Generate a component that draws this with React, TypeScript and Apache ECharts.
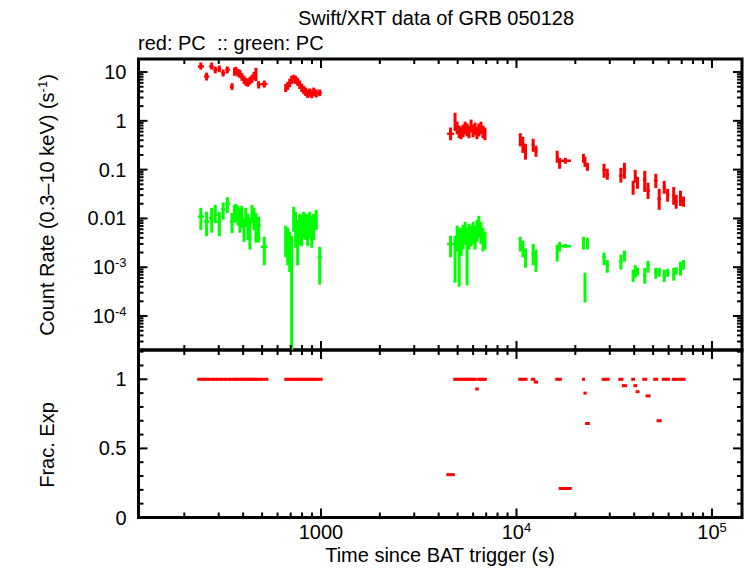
import React, { useEffect, useRef } from "react";
import * as echarts from "echarts";

// ---- light-curve bins (time in s since trigger) ----
const binTime = [
  243, 260, 276, 288, 302, 316, 332, 351,
  361, 367, 376, 385, 394, 404, 413, 423, 433, 444, 454, 465, 480, 513,
  660, 676, 692, 708, 725, 742, 760, 778, 797, 816, 835, 855, 876, 897, 918, 946, 985,
  4600, 4850, 4970, 5090, 5210, 5330, 5460, 5590, 5720, 5860, 6000, 6140, 6280, 6420, 6580, 6740, 6900,
  10460, 10780, 11120,
  12170, 12580,
  16150, 16620, 17800,
  22010, 22410, 23050,
  28050, 29140,
  34200, 35650,
  39500, 40500, 41600,
  45300, 47100,
  51600, 53700,
  57000, 59300,
  63700, 65600,
  69000, 71500,
];

const binStart = [
  235, 252, 268, 282, 295, 309, 324, 342,
  357, 364, 371, 380, 389, 399, 408, 418, 428, 438, 449, 459, 470, 492,
  655, 668, 684, 700, 716, 733, 751, 769, 787, 806, 825, 845, 865, 886, 907, 930, 960,
  4420, 4790, 4910, 5030, 5150, 5270, 5400, 5530, 5660, 5790, 5930, 6070, 6210, 6350, 6500, 6660, 6820,
  10300, 10620, 10950,
  11960, 12370,
  15930, 16380, 16600,
  21800, 22200, 22650,
  27520, 28600,
  33500, 34900,
  39000, 40000, 41050,
  44380, 46200,
  50500, 52600,
  55900, 58200,
  62800, 64650,
  67700, 70300,
];

const binEnd = [
  252, 268, 282, 295, 309, 324, 342, 357,
  364, 371, 380, 389, 399, 408, 418, 428, 438, 449, 459, 470, 492, 533,
  668, 684, 700, 716, 733, 751, 769, 787, 806, 825, 845, 865, 886, 907, 930, 960, 1010,
  4790, 4910, 5030, 5150, 5270, 5400, 5530, 5660, 5790, 5930, 6070, 6210, 6350, 6500, 6660, 6820, 6990,
  10620, 10950, 11290,
  12370, 12780,
  16380, 16900, 19000,
  22200, 22650, 23500,
  28600, 29680,
  34900, 36430,
  40000, 41050, 42170,
  46200, 48080,
  52600, 54800,
  58200, 60500,
  64650, 66590,
  70300, 72600,
];

// red: PC count rate (s^-1) with lower / upper error bounds
const redRate = [
  13.0, 8.1, 13.0, 11.1, 11.6, 9.5, 11.1, 5.0,
  10.1, 10.6, 9.6, 9.2, 8.0, 6.9, 6.3, 6.0, 6.6, 7.3, 8.4, 8.8, 5.5, 5.65,
  4.75, 5.2, 6.0, 6.9, 7.3, 6.9, 6.3, 5.5, 4.75, 4.3, 3.9, 3.6, 3.75, 3.5, 3.9, 3.6, 3.75,
  0.542, 0.954, 0.719, 0.595, 0.568, 0.624, 0.719, 0.654, 0.595, 0.79, 0.624, 0.686, 0.568, 0.654, 0.719, 0.595, 0.542,
  0.428, 0.322, 0.232,
  0.322, 0.243,
  0.183, 0.132, 0.152,
  0.174, 0.145, 0.114,
  0.099, 0.078,
  0.075, 0.099,
  0.042, 0.071, 0.054,
  0.062, 0.037,
  0.059, 0.025,
  0.044, 0.031,
  0.029, 0.022,
  0.026, 0.022,
];
const redLow = [
  11.2, 6.7, 11.2, 9.4, 9.9, 8.1, 9.4, 4.3,
  8.4, 8.8, 8.0, 7.6, 6.6, 5.7, 5.2, 5.0, 5.5, 6.0, 6.9, 6.5, 4.6, 4.8,
  3.9, 4.3, 4.9, 5.7, 6.0, 5.7, 5.2, 4.5, 3.9, 3.5, 3.2, 2.95, 3.1, 2.9, 3.2, 3.0, 3.2,
  0.4, 0.62, 0.53, 0.44, 0.42, 0.46, 0.53, 0.48, 0.44, 0.58, 0.46, 0.51, 0.42, 0.48, 0.53, 0.44, 0.4,
  0.3, 0.22, 0.16,
  0.232, 0.183,
  0.138, 0.104, 0.132,
  0.138, 0.114, 0.0945,
  0.068, 0.062,
  0.054, 0.065,
  0.0305, 0.054, 0.0405,
  0.035, 0.025,
  0.042, 0.015,
  0.032, 0.022,
  0.019, 0.0158,
  0.018, 0.0173,
];
const redHigh = [
  15.7, 9.7, 15.7, 13.0, 13.6, 11.2, 13.0, 5.9,
  12.2, 12.8, 11.6, 11.1, 9.6, 8.4, 7.6, 7.3, 8.0, 8.8, 10.1, 12.2, 6.5, 6.7,
  5.7, 6.3, 7.3, 8.4, 8.8, 8.4, 7.6, 6.7, 5.8, 5.2, 4.8, 4.4, 4.6, 4.3, 4.8, 4.4, 4.4,
  0.73, 1.46, 0.96, 0.8, 0.76, 0.84, 0.96, 0.88, 0.8, 1.06, 0.84, 0.92, 0.76, 0.88, 0.96, 0.8, 0.73,
  0.56, 0.47, 0.34,
  0.428, 0.308,
  0.243, 0.174, 0.174,
  0.211, 0.183, 0.138,
  0.132, 0.104,
  0.109, 0.138,
  0.059, 0.099, 0.071,
  0.0945, 0.054,
  0.082, 0.0405,
  0.059, 0.0405,
  0.044, 0.0305,
  0.037, 0.028,
];

// green: PC count rate (s^-1) with lower / upper error bounds
const greenRate = [
  0.0109, 0.0086, 0.0101, 0.0119, 0.0086, 0.0155, 0.0199, 0.0086,
  0.0124, 0.0137, 0.0119, 0.0085, 0.0113, 0.0071, 0.0113, 0.0071, 0.0053, 0.0124, 0.0103, 0.0078, 0.0071, 0.0026,
  0.004, 0.0032, 0.0026, 0.0018, 0.0103, 0.0071, 0.0046, 0.0071, 0.0064, 0.0085, 0.0078, 0.0064, 0.0085, 0.0058, 0.0078, 0.0103, 0.0016,
  0.003, 0.0023, 0.0044, 0.0027, 0.0036, 0.0044, 0.0053, 0.0027, 0.0044, 0.0048, 0.0053, 0.0044, 0.0058, 0.0071, 0.0053, 0.004, 0.0036,
  0.003, 0.0023, 0.0016,
  0.0019, 0.0013,
  0.0021, 0.0027, 0.0027,
  0.0032, 0.00038, 0.0032,
  0.0016, 0.0011,
  0.0013, 0.0017,
  0.00067, 0.0008, 0.0008,
  0.00067, 0.0011,
  0.0008, 0.0008,
  0.00067, 0.0008,
  0.0007, 0.00089,
  0.00089, 0.0012,
];
const greenLow = [
  0.0058, 0.0043, 0.0051, 0.008, 0.0043, 0.0094, 0.0129, 0.005,
  0.0081, 0.0085, 0.0071, 0.0051, 0.0064, 0.0033, 0.0067, 0.0036, 0.0023, 0.0081, 0.0058, 0.0032, 0.0032, 0.0011,
  0.0016, 0.0011, 0.0008, 0, 0.0053, 0.0025, 0.0011, 0.0029, 0.0027, 0.004, 0.0036, 0.0027, 0.004, 0.0025, 0.0036, 0.0058, 0.00044,
  0.0016, 0.00048, 0.0021, 0.0004, 0.0017, 0.0023, 0.0029, 0.00042, 0.0023, 0.0027, 0.003, 0.0023, 0.0033, 0.004, 0.003, 0.0021, 0.0023,
  0.0021, 0.0016, 0.00098,
  0.0011, 0.0008,
  0.0013, 0.0021, 0.0025,
  0.0023, 0.00019, 0.0023,
  0.0011, 0.00077,
  0.00089, 0.0013,
  0.0005, 0.00061, 0.00067,
  0.00046, 0.00077,
  0.00058, 0.00064,
  0.0005, 0.00064,
  0.00053, 0.0007,
  0.00067, 0.00089,
];
const greenHigh = [
  0.0165, 0.0137, 0.0165, 0.019, 0.0137, 0.0212, 0.0273, 0.0129,
  0.019, 0.0199, 0.0181, 0.0165, 0.0181, 0.0103, 0.0165, 0.0124, 0.0103, 0.019, 0.0165, 0.013, 0.0108, 0.0042,
  0.0071, 0.0064, 0.0053, 0.0044, 0.0173, 0.0137, 0.0094, 0.0124, 0.0119, 0.0137, 0.0124, 0.0119, 0.0137, 0.0113, 0.0124, 0.015, 0.0026,
  0.0044, 0.0044, 0.0071, 0.0064, 0.0064, 0.0074, 0.0085, 0.0064, 0.0078, 0.0071, 0.0085, 0.0071, 0.0094, 0.0113, 0.0085, 0.0064, 0.0053,
  0.0042, 0.0035, 0.0024,
  0.003, 0.0023,
  0.0029, 0.0033, 0.003,
  0.0042, 0.00077, 0.004,
  0.002, 0.0014,
  0.0018, 0.0022,
  0.00089, 0.0011, 0.00097,
  0.00097, 0.00135,
  0.00097, 0.00097,
  0.00089, 0.00093,
  0.00097, 0.001,
  0.0013, 0.0014,
];

// fractional exposure of each bin
const fracExp = [
  1, 1, 1, 1, 1, 1, 1, 1,
  1, 1, 1, 1, 1, 1, 1, 1, 1, 1, 1, 1, 1, 1,
  1, 1, 1, 1, 1, 1, 1, 1, 1, 1, 1, 1, 1, 1, 1, 1, 1,
  0.31, 1, 1, 1, 1, 1, 1, 1, 1, 1, 1, 1, 0.93, 1, 1, 1, 1,
  1, 1, 1,
  1, 0.98,
  1, 1, 0.21,
  1, 0.9, 0.68,
  1, 1,
  1, 0.954,
  1, 0.954, 0.91,
  1, 0.88,
  1, 0.7,
  1, 1,
  1, 1,
  1, 1,
];

// ---- axes ----
const X_MIN = 116.6;
const X_MAX = 142400;
const RATE_MIN = 2.01e-5;
const RATE_MAX = 18.5;
const FRAC_MAX = 1.212;

const timeTicks = [1000, 10000, 100000];
const timeTickLabels = ["{b|1000}", "{b|10}{sup|4}", "{b|10}{sup|5}"];
const rateTicks = [1e-4, 1e-3, 0.01, 0.1, 1, 10];
const rateTickLabels = ["{b|10}{sup|-4}", "{b|10}{sup|-3}", "{b|0.01}", "{b|0.1}", "{b|1}", "{b|10}"];
const fracTicks = [0, 0.5, 1];
const fracTickLabels = ["{b|0}", "{b|0.5}", "{b|1}"];

const FONT = "Liberation Sans";

function minorLogTicks(lo: number, hi: number): number[] {
  const out: number[] = [];
  for (let e = Math.floor(Math.log10(lo)); e <= Math.ceil(Math.log10(hi)); e++) {
    for (let k = 2; k <= 9; k++) {
      const v = k * Math.pow(10, e);
      if (v > lo && v < hi) out.push(v);
    }
  }
  return out;
}

const labelFor = (ticks: number[], labels: string[]) => (v: number) => {
  for (let i = 0; i < ticks.length; i++) {
    const t = ticks[i];
    const hit = t === 0 ? Math.abs(v) < 1e-9 : Math.abs(v / t - 1) < 1e-6;
    if (hit) return labels[i];
  }
  return "";
};

const labelRich = {
  b: { fontSize: 20, lineHeight: 22, fontFamily: FONT, color: "#000" },
  sup: { fontSize: 13, lineHeight: 14, fontFamily: FONT, color: "#000", verticalAlign: "top" },
};

function errorBarRenderer(color: string) {
  return (params: any, api: any) => {
    const t = api.value(0);
    const r = api.value(1);
    const lo = Math.max(api.value(4), RATE_MIN);
    const hi = Math.min(api.value(5), RATE_MAX);
    const a = api.coord([t, lo]);
    const b = api.coord([t, hi]);
    const l = api.coord([api.value(2), r]);
    const rr = api.coord([api.value(3), r]);
    return {
      type: "group",
      children: [
        {
          type: "line",
          shape: { x1: a[0], y1: a[1], x2: b[0], y2: b[1] },
          style: { stroke: color, lineWidth: 3, lineCap: "butt" },
        },
        {
          type: "line",
          shape: { x1: l[0], y1: l[1], x2: rr[0], y2: rr[1] },
          style: { stroke: color, lineWidth: 2.5, lineCap: "butt" },
        },
      ],
    };
  };
}

function fracRenderer(params: any, api: any) {
  const f = api.value(1);
  const l = api.coord([api.value(2), f]);
  const r = api.coord([api.value(3), f]);
  return {
    type: "line",
    shape: { x1: l[0] - 0.8, y1: l[1], x2: r[0] + 0.8, y2: r[1] },
    style: { stroke: "#ff0000", lineWidth: 3, lineCap: "butt" },
  };
}

// kind: 0 = x major, 1 = x minor, 2 = y major, 3 = y minor
function tickRenderer(params: any, api: any) {
  const cs = params.coordSys;
  const kind = api.value(2);
  const p = api.coord([api.value(0), api.value(1)]);
  const len = kind === 0 || kind === 2 ? 9 : 5;
  const style = { stroke: "#000", lineWidth: 2 };
  if (kind < 2) {
    const x = p[0];
    return {
      type: "group",
      children: [
        { type: "line", shape: { x1: x, y1: cs.y, x2: x, y2: cs.y + len }, style },
        { type: "line", shape: { x1: x, y1: cs.y + cs.height, x2: x, y2: cs.y + cs.height - len }, style },
      ],
    };
  }
  const y = p[1];
  return {
    type: "group",
    children: [
      { type: "line", shape: { x1: cs.x, y1: y, x2: cs.x + len, y2: y }, style },
      { type: "line", shape: { x1: cs.x + cs.width, y1: y, x2: cs.x + cs.width - len, y2: y }, style },
    ],
  };
}

function buildOption() {
  const greenData = binTime.map((t, i) => [t, greenRate[i], binStart[i], binEnd[i], greenLow[i], greenHigh[i]]);
  const redData = binTime.map((t, i) => [t, redRate[i], binStart[i], binEnd[i], redLow[i], redHigh[i]]);
  const fracData = binTime.map((t, i) => [t, fracExp[i], binStart[i], binEnd[i]]);

  const xMinor = minorLogTicks(X_MIN, X_MAX);
  const rateMinor = minorLogTicks(RATE_MIN, RATE_MAX);
  const fracMinor: number[] = [];
  for (let k = 1; k <= 12; k++) if (k !== 5 && k !== 10) fracMinor.push(k / 10);

  const topTicks = [
    ...timeTicks.map((v) => [v, 1, 0]),
    ...xMinor.map((v) => [v, 1, 1]),
    ...rateTicks.map((v) => [1000, v, 2]),
    ...rateMinor.map((v) => [1000, v, 3]),
  ];
  const bottomTicks = [
    ...timeTicks.map((v) => [v, 0.5, 0]),
    ...xMinor.map((v) => [v, 0.5, 1]),
    ...fracTicks.map((v) => [1000, v, 2]),
    ...fracMinor.map((v) => [1000, v, 3]),
  ];

  const gridBase = {
    left: 138.5,
    width: 603.5,
    show: true,
    borderColor: "#000",
    borderWidth: 3,
    backgroundColor: "transparent",
  };
  const hidden = { axisLine: { show: false }, axisTick: { show: false }, splitLine: { show: false } };

  const text = (x: number, y: number, t: string, align: string, extra: any = {}) => ({
    type: "text",
    x,
    y,
    silent: true,
    ...extra,
    style: {
      text: t,
      fill: "#000",
      fontSize: 20,
      fontFamily: FONT,
      textAlign: align,
      align,
      textVerticalAlign: "middle",
      verticalAlign: "middle",
      rich: labelRich,
    },
  });

  return {
    animation: false,
    backgroundColor: "#fff",
    grid: [
      { ...gridBase, top: 59, height: 291 },
      { ...gridBase, top: 350, height: 167.5 },
    ],
    xAxis: [
      { type: "log", logBase: 10, gridIndex: 0, min: X_MIN, max: X_MAX, ...hidden, axisLabel: { show: false } },
      {
        type: "log",
        logBase: 10,
        gridIndex: 1,
        min: X_MIN,
        max: X_MAX,
        ...hidden,
        axisLabel: {
          show: true,
          margin: 3,
          formatter: labelFor(timeTicks, timeTickLabels),
          rich: labelRich,
        },
      },
    ],
    yAxis: [
      {
        type: "log",
        logBase: 10,
        gridIndex: 0,
        min: RATE_MIN,
        max: RATE_MAX,
        ...hidden,
        axisLabel: {
          show: true,
          margin: 12,
          formatter: labelFor(rateTicks, rateTickLabels),
          rich: labelRich,
        },
      },
      {
        type: "value",
        gridIndex: 1,
        min: 0,
        max: FRAC_MAX,
        interval: 0.5,
        ...hidden,
        axisLabel: {
          show: true,
          margin: 12,
          formatter: labelFor(fracTicks, fracTickLabels),
          rich: labelRich,
        },
      },
    ],
    series: [
      {
        type: "custom",
        name: "green: PC",
        xAxisIndex: 0,
        yAxisIndex: 0,
        encode: { x: 0, y: 1 },
        clip: true,
        data: greenData,
        renderItem: errorBarRenderer("#00ff00"),
      },
      {
        type: "custom",
        name: "red: PC",
        xAxisIndex: 0,
        yAxisIndex: 0,
        encode: { x: 0, y: 1 },
        clip: true,
        data: redData,
        renderItem: errorBarRenderer("#ff0000"),
      },
      {
        type: "custom",
        name: "Frac. Exp",
        xAxisIndex: 1,
        yAxisIndex: 1,
        encode: { x: 0, y: 1 },
        data: fracData,
        renderItem: fracRenderer,
      },
      {
        type: "custom",
        xAxisIndex: 0,
        yAxisIndex: 0,
        encode: { x: 0, y: 1 },
        silent: true,
        z: 5,
        data: topTicks,
        renderItem: tickRenderer,
      },
      {
        type: "custom",
        xAxisIndex: 1,
        yAxisIndex: 1,
        encode: { x: 0, y: 1 },
        silent: true,
        z: 5,
        data: bottomTicks,
        renderItem: tickRenderer,
      },
    ],
    graphic: [
      text(436, 18, "Swift/XRT data of GRB 050128", "center"),
      text(138, 43, "red: PC\u00a0\u00a0:: green: PC", "left"),
      text(440, 555, "Time since BAT trigger (s)", "center"),
      text(47, 205, "{b|Count Rate (0.3\u201310 keV) (s}{sup|-1}{b|)}", "center", { rotation: Math.PI / 2 }),
      text(47, 445, "Frac. Exp", "center", { rotation: Math.PI / 2 }),
    ],
  };
}

export default function App() {
  const ref = useRef<HTMLDivElement>(null);
  useEffect(() => {
    if (!ref.current) return;
    const chart = echarts.init(ref.current, null, { renderer: "svg" });
    chart.setOption(buildOption() as any);
    return () => chart.dispose();
  }, []);
  return (
    <div
      ref={ref}
      style={{ position: "absolute", left: 0, top: 0, width: 746, height: 568, background: "#fff" }}
    />
  );
}
